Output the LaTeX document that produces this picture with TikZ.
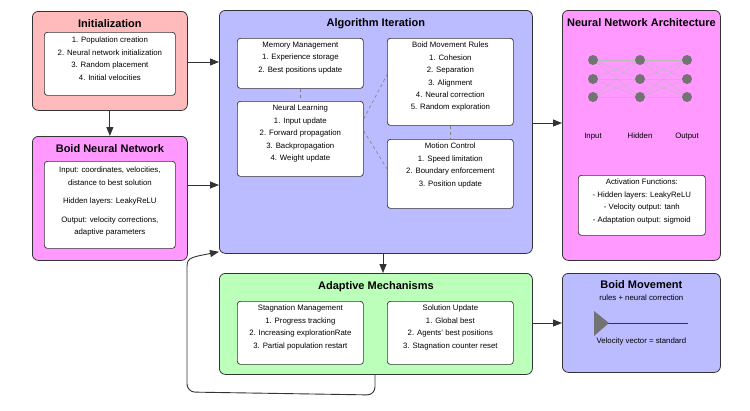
\documentclass[tikz,border=0pt]{standalone}
\usepackage{fontspec}
\setmainfont{Liberation Sans}
\usetikzlibrary{positioning, arrows.meta, calc}

\definecolor{initpink}{HTML}{FFBBBB}
\definecolor{netpink}{HTML}{FF99FF}
\definecolor{iterblue}{HTML}{BBBBFF}
\definecolor{adaptgreen}{HTML}{BBFFBB}
\definecolor{edge}{HTML}{333333}

\begin{document}
\begin{tikzpicture}[x=1pt, y=-1pt]
		\tikzset{
			>={Triangle[length=9pt, width=7pt]},
			panel/.style={draw=edge, line width=0.8pt, rounded corners=6pt, anchor=north west},
			inbox/.style={draw=edge, line width=0.7pt, fill=white, rounded corners=3pt, anchor=north west},
			title/.style={font=\bfseries\fontsize{11}{12}\selectfont, anchor=north},
			body/.style={font=\fontsize{7.8}{12.4}\selectfont, align=center, anchor=north, inner sep=0pt},
			link/.style={draw=edge, line width=0.9pt, ->},
			dashlink/.style={draw=gray, dashed, line width=0.6pt},
			neuron/.style={circle, fill=gray!90!black, minimum size=10pt, inner sep=0pt}
		}
		\useasboundingbox (0,0) rectangle (750,410);

		% Initialization
		\node[panel, fill=initpink, minimum width=155pt, minimum height=99pt] (init) at (32,11) {};
		\node[title] at ($(init.north)+(0,5)$) {Initialization};
		\node[inbox, minimum width=131pt, minimum height=63pt] (initlist) at (44,32) {};
		\node[body] at ($(initlist.north)+(0,5)$) {1. Population creation\\2. Neural network initialization\\3. Random placement\\4. Initial velocities};

		% Boid neural network
		\node[panel, fill=netpink, minimum width=155pt, minimum height=124pt] (bnn) at (32,136) {};
		\node[title] at ($(bnn.north)+(0,5)$) {Boid Neural Network};
		\node[inbox, minimum width=131pt, minimum height=87pt] (bnnlist) at (44,161) {};
		\node[body] at ($(bnnlist.north)+(0,6)$) {Input: coordinates, velocities,\\distance to best solution\\[6pt]Hidden layers: LeakyReLU\\[6pt]Output: velocity corrections,\\adaptive parameters};

		% Algorithm iteration
		\node[panel, fill=iterblue, minimum width=313pt, minimum height=243pt] (iter) at (219,10) {};
		\node[title] at ($(iter.north)+(0,5)$) {Algorithm Iteration};
		\node[inbox, minimum width=126pt, minimum height=50pt] (mem) at (237,38) {};
		\node[body] at ($(mem.north)+(0,4)$) {Memory Management\\1. Experience storage\\2. Best positions update};
		\node[inbox, minimum width=126pt, minimum height=75pt] (learn) at (237,101) {};
		\node[body] at ($(learn.north)+(0,4)$) {Neural Learning\\1. Input update\\2. Forward propagation\\3. Backpropagation\\4. Weight update};
		\node[inbox, minimum width=126pt, minimum height=87pt] (rules) at (387,38) {};
		\node[body] at ($(rules.north)+(0,4)$) {Boid Movement Rules\\1. Cohesion\\2. Separation\\3. Alignment\\4. Neural correction\\5. Random exploration};
		\node[inbox, minimum width=126pt, minimum height=69pt] (motion) at (387,139) {};
		\node[body] at ($(motion.north)+(0,4)$) {Motion Control\\1. Speed limitation\\2. Boundary enforcement\\3. Position update};

		% Dashed relations
		\draw[dashlink] (mem) -- (learn);
		\draw[dashlink] (rules) -- (motion);
		\draw[dashlink] ($(learn.east)+(0,-20)$) -- ($(rules.west)+(0,-7)$);
		\draw[dashlink] ($(learn.east)+(0,-8)$) -- ($(motion.west)+(0,-5)$);

		% Neural network architecture
		\node[panel, fill=netpink, minimum width=158pt, minimum height=250pt] (arch) at (562,10) {};
		\node[title] at ($(arch.north)+(0,5)$) {Neural Network Architecture};
		\foreach \c/\x in {1/593, 2/640, 3/687}
			\foreach \r/\y in {1/60, 2/79, 3/97}
				\node[neuron] (n\c\r) at (\x,\y) {};
		\foreach \a/\b in {1/2, 2/3}
			\foreach \i in {1,2,3}
				\foreach \j in {1,2,3}
					\draw[gray!55, line width=0.4pt] (n\a\i) -- (n\b\j);
		\foreach \c/\x/\lbl in {1/593/Input, 2/640/Hidden, 3/687/Output}
			\node[body] (lbl\c) at (\x,133) {\lbl};
		\node[inbox, minimum width=127pt, minimum height=60pt] (act) at (578,175) {};
		\node[body] at ($(act.north)+(0,4)$) {Activation Functions:\\- Hidden layers: LeakyReLU\\- Velocity output: tanh\\- Adaptation output: sigmoid};

		% Adaptive mechanisms
		\node[panel, fill=adaptgreen, minimum width=313pt, minimum height=101pt] (adapt) at (219,273) {};
		\node[title] at ($(adapt.north)+(0,5)$) {Adaptive Mechanisms};
		\node[inbox, minimum width=126pt, minimum height=63pt] (stag) at (237,301) {};
		\node[body] at ($(stag.north)+(0,4)$) {Stagnation Management\\1. Progress tracking\\2. Increasing explorationRate\\3. Partial population restart};
		\node[inbox, minimum width=126pt, minimum height=63pt] (sol) at (387,301) {};
		\node[body] at ($(sol.north)+(0,4)$) {Solution Update\\1. Global best\\2. Agents' best positions\\3. Stagnation counter reset};

		% Boid movement
		\node[panel, fill=iterblue, minimum width=158pt, minimum height=99pt] (move) at (562,273) {};
		\node[title] at ($(move.north)+(0,4)$) {Boid Movement};
		\node[body] (movesub) at ($(move.north)+(0,22)$) {rules + neural correction};
		\coordinate (vtail) at (594,323);
		\coordinate (vhead) at (688,323);
		\draw[edge, line width=0.8pt] (vtail) -- (vhead);
		\fill[gray!90!black] (594,311) -- (609,323) -- (594,336) -- cycle;
		\node[body] (movetext) at ($(move.north)+(0,65)$) {Velocity vector = standard};

		% Connections
		\draw[link] (init.east |- 0,62) -- (iter.west |- 0,62);
		\draw[link] (init) -- (bnn);
		\draw[link] (bnn.east |- 0,185) -- (iter.west |- 0,185);
		\draw[link] (iter.east |- 0,123) -- (arch.west |- 0,123);
		\draw[link] (iter.south -| 383,0) -- (adapt.north -| 383,0);
		\draw[link] (adapt.east |- 0,323) -- (move.west |- 0,323);

		% Feedback loop
		\coordinate (loopbot) at (375,395);
		\coordinate (loopleft) at (187,392);
		\draw[link, rounded corners=8pt] (adapt.south -| loopbot) -- (loopbot) -- (loopleft) -- (187,278)
			.. controls (187,258) .. ($(iter.south west)+(0,-2)$);
	\end{tikzpicture}
\end{document}
